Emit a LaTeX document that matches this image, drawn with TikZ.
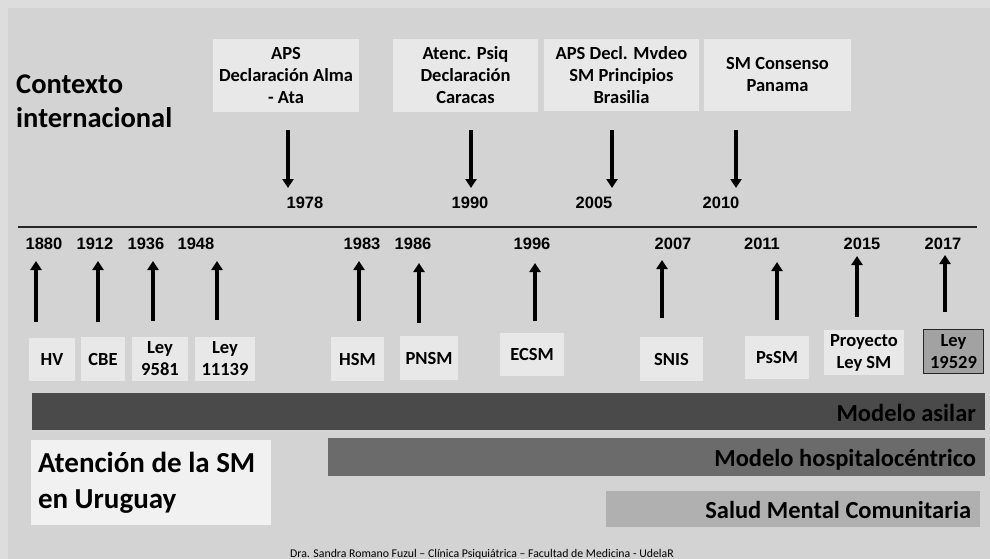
\documentclass[tikz,border=0pt]{standalone}
\usepackage{fontspec}
\setmainfont{Carlito}
\newfontfamily\yearfont{Liberation Sans}
\usetikzlibrary{arrows.meta}
\definecolor{outerbg}{HTML}{DDDDDD}
\definecolor{panel}{HTML}{D3D3D3}
\definecolor{boxgray}{HTML}{E8E8E8}
\definecolor{asilar}{HTML}{4A4A4A}
\definecolor{hospital}{HTML}{6B6B6B}
\definecolor{comunit}{HTML}{B0B0B0}

\begin{document}
\begin{tikzpicture}[x=1pt, y=-1pt,
    evbox/.style={fill=boxgray, align=center, inner sep=0pt, font=\bfseries\fontsize{18.5}{22}\selectfont},
    yr/.style={inner sep=0pt, font=\yearfont\bfseries\fontsize{16.5}{17}\selectfont},
    ev/.style={line width=3.5pt, -{Triangle[width=11pt,length=9pt]}},
    bar/.style={inner xsep=9pt, inner ysep=0pt, text height=19pt, text depth=0pt, align=flush right, font=\bfseries\fontsize{24.5}{28}\selectfont}]
    \useasboundingbox (0,0) rectangle (990,559);
    \fill[outerbg] (0,0) rectangle (990,559);
    \fill[panel] (8,8) rectangle (990,559);

    % arrow ends, top row
    \coordinate (t1) at (288,130);  \coordinate (t1e) at (288,188);
    \coordinate (t2) at (471,130);  \coordinate (t2e) at (471,188);
    \coordinate (t3) at (612,130);  \coordinate (t3e) at (612,188);
    \coordinate (t4) at (736,130);  \coordinate (t4e) at (736,188);
    % arrow ends, bottom row
    \coordinate (b1) at (36,322);   \coordinate (b1e) at (36,261);
    \coordinate (b2) at (98,322);   \coordinate (b2e) at (98,261);
    \coordinate (b3) at (153,321);  \coordinate (b3e) at (153,261);
    \coordinate (b4) at (217,320);  \coordinate (b4e) at (217,261);
    \coordinate (b5) at (359,321);  \coordinate (b5e) at (359,261);
    \coordinate (b6) at (419,323);  \coordinate (b6e) at (419,263);
    \coordinate (b7) at (535,321);  \coordinate (b7e) at (535,263);
    \coordinate (b8) at (662,318);  \coordinate (b8e) at (662,260);
    \coordinate (b9) at (777,320);  \coordinate (b9e) at (777,262);
    \coordinate (b10) at (857,317); \coordinate (b10e) at (857,256);
    \coordinate (b11) at (945,312); \coordinate (b11e) at (945,255);
    % timeline
    \coordinate (l0) at (18,227);
    \coordinate (l1) at (977,227);

    \node[font=\bfseries\fontsize{28.5}{34}\selectfont, align=flush left, anchor=west, inner sep=0pt] (ctx) at (16,101) {Contexto\\internacional};

    \node[evbox, minimum width=146, minimum height=73] (almaata) at (286,75.5) {APS\\Declaración Alma\\- Ata};
    \node[evbox, minimum width=145, minimum height=73] (caracas) at (465.5,75.5) {Atenc. Psiq\\Declaración\\Caracas};
    \node[evbox, minimum width=155, minimum height=72] (brasilia) at (621.5,75) {APS Decl. Mvdeo\\SM Principios\\Brasilia};
    \node[evbox, minimum width=147, minimum height=72] (panama) at (777.5,75) {SM Consenso\\Panama};

    \draw[ev] (t1) -- (t1e);
    \draw[ev] (t2) -- (t2e);
    \draw[ev] (t3) -- (t3e);
    \draw[ev] (t4) -- (t4e);

    \node[yr] (y1978) at (305,203) {1978};
    \node[yr] (y1990) at (470,203) {1990};
    \node[yr] (y2005) at (594,203) {2005};
    \node[yr] (y2010) at (721,203) {2010};

    \draw[line width=1.5pt, black!85] (l0) -- (l1);

    \node[yr] (y1880) at (44,244) {1880};
    \node[yr] (y1912) at (95,244) {1912};
    \node[yr] (y1936) at (146,244) {1936};
    \node[yr] (y1948) at (196,244) {1948};
    \node[yr] (y1983) at (362,244) {1983};
    \node[yr] (y1986) at (413,244) {1986};
    \node[yr] (y1996) at (532,244) {1996};
    \node[yr] (y2007) at (673,244) {2007};
    \node[yr] (y2011) at (762,244) {2011};
    \node[yr] (y2015) at (862,244) {2015};
    \node[yr] (y2017) at (943,244) {2017};

    \draw[ev] (b1) -- (b1e);
    \draw[ev] (b2) -- (b2e);
    \draw[ev] (b3) -- (b3e);
    \draw[ev] (b4) -- (b4e);
    \draw[ev] (b5) -- (b5e);
    \draw[ev] (b6) -- (b6e);
    \draw[ev] (b7) -- (b7e);
    \draw[ev] (b8) -- (b8e);
    \draw[ev] (b9) -- (b9e);
    \draw[ev] (b10) -- (b10e);
    \draw[ev] (b11) -- (b11e);

    \node[evbox, minimum width=46, minimum height=43] (hv) at (52,359) {HV};
    \node[evbox, minimum width=44, minimum height=44] (cbe) at (103,359) {CBE};
    \node[evbox, minimum width=56, minimum height=44] (ley9581) at (160,359) {Ley\\9581};
    \node[evbox, minimum width=60, minimum height=44] (ley11139) at (225,359) {Ley\\11139};
    \node[evbox, minimum width=53, minimum height=44] (hsm) at (357.5,359) {HSM};
    \node[evbox, minimum width=58, minimum height=44] (pnsm) at (429,358) {PNSM};
    \node[evbox, minimum width=64, minimum height=43] (ecsm) at (532,354.5) {ECSM};
    \node[evbox, minimum width=63, minimum height=44] (snis) at (671.5,359) {SNIS};
    \node[evbox, minimum width=64, minimum height=43] (pssm) at (777,357.5) {PsSM};
    \node[evbox, minimum width=80, minimum height=45] (proyecto) at (864,352.5) {Proyecto\\Ley SM};
    \node[evbox, fill=comunit!92!black, draw=black!85, line width=1.2pt, minimum width=60, minimum height=44] (ley19529) at (953.5,351.5) {Ley\\19529};

    \node[bar, fill=asilar, minimum width=953, minimum height=37, text width=935] (masilar) at (508.5,411.5) {Modelo asilar};
    \node[bar, fill=hospital, minimum width=657, minimum height=38, text width=639] (mhosp) at (656.5,457) {Modelo hospitalocéntrico};
    \node[bar, fill=comunit, minimum width=374, minimum height=36, text width=356] (smc) at (793,509) {Salud Mental Comunitaria};

    \node[fill=boxgray!60!white, minimum width=240, minimum height=85, text width=226, inner xsep=7pt, align=flush left, font=\bfseries\fontsize{29}{36}\selectfont] (uruguay) at (151,482.5) {Atención de la SM\\en Uruguay};

    \node[font=\fontsize{11.8}{13}\selectfont, anchor=base, inner sep=0pt] (credit) at (482,557.5) {Dra. Sandra Romano Fuzul – Clínica Psiquiátrica – Facultad de Medicina - UdelaR};
  \end{tikzpicture}
\end{document}
